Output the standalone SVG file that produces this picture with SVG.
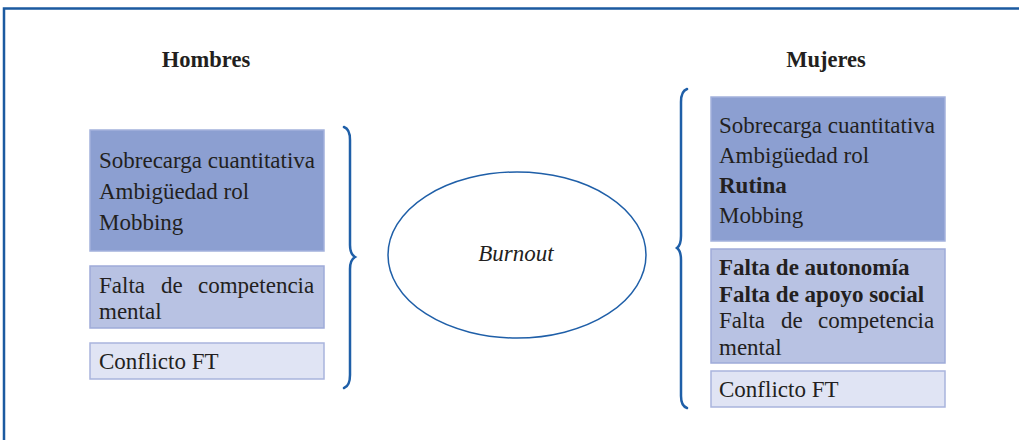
<svg xmlns="http://www.w3.org/2000/svg" width="1019" height="440" viewBox="0 0 1019 440">
<style>
.t{font-family:"Liberation Serif","DejaVu Serif",serif;font-size:23px;fill:#231f20}
.b{font-weight:bold}
.h{font-family:"Liberation Serif","DejaVu Serif",serif;font-size:22.5px;font-weight:bold;fill:#231f20}
.b1{fill:#8c9fd1;stroke:#a3b1dc;stroke-width:1.5}
.b2{fill:#b8c2e3;stroke:#9eabd9;stroke-width:1.5}
.b3{fill:#e0e4f4;stroke:#a9b4dd;stroke-width:1.5}
.br{fill:none;stroke:#1f5fa8;stroke-width:2.5;stroke-linecap:round}
</style>
<rect width="1019" height="440" fill="#fff"/>
<path d="M4,440 V8.5 H1019" fill="none" stroke="#1b5aa0" stroke-width="2.5"/>
<text class="h" x="206" y="67" text-anchor="middle">Hombres</text>
<text class="h" x="826" y="67" text-anchor="middle">Mujeres</text>
<g id="h1"><rect class="b1" x="90" y="130" width="234" height="121"/>
<text class="t" x="99" y="168" textLength="216" lengthAdjust="spacingAndGlyphs">Sobrecarga cuantitativa</text>
<text class="t" x="99" y="199">Ambigüedad rol</text>
<text class="t" x="99" y="230">Mobbing</text></g>
<g id="h2"><rect class="b2" x="90" y="266" width="234" height="62"/>
<text class="t" y="293"><tspan x="99">Falta</tspan><tspan x="161">de</tspan><tspan x="198">competencia</tspan></text>
<text class="t" x="99" y="319">mental</text></g>
<g id="h3"><rect class="b3" x="90" y="343" width="234" height="36"/>
<text class="t" x="99" y="369">Conflicto FT</text></g>
<g id="burnout"><ellipse cx="517" cy="255" rx="129" ry="83" fill="#fff" stroke="#1f5fa8" stroke-width="1.5"/>
<text class="t" x="516" y="261" text-anchor="middle" font-style="italic">Burnout</text></g>
<g id="m1"><rect class="b1" x="711" y="97" width="234" height="144"/>
<text class="t" x="719" y="133" textLength="216" lengthAdjust="spacingAndGlyphs">Sobrecarga cuantitativa</text>
<text class="t" x="719" y="163">Ambigüedad rol</text>
<text class="t b" x="719" y="193">Rutina</text>
<text class="t" x="719" y="223">Mobbing</text></g>
<g id="m2"><rect class="b2" x="711" y="249" width="234" height="114"/>
<text class="t b" x="719" y="275">Falta de autonomía</text>
<text class="t b" x="719" y="302">Falta de apoyo social</text>
<text class="t" y="328"><tspan x="719">Falta</tspan><tspan x="781">de</tspan><tspan x="818">competencia</tspan></text>
<text class="t" x="719" y="355">mental</text></g>
<g id="m3"><rect class="b3" x="711" y="371" width="234" height="36"/>
<text class="t" x="719" y="397">Conflicto FT</text></g>
<g id="connectors">
<path class="br" d="M344,127 Q350,129 350,140 V245 Q350,254 355,257 Q350,260 350,269 V375 Q350,386 344,388"/>
<path class="br" d="M687,89 Q681,91 681,102 V236 Q681,245 677,248 Q681,251 681,260 V396 Q681,406 687,408"/>
</g>
</svg>
